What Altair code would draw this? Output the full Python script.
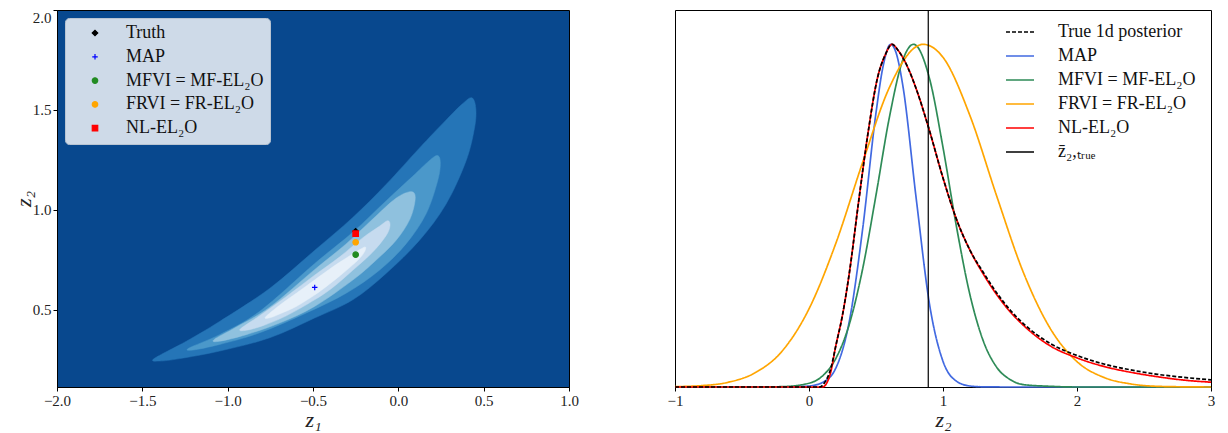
import altair as alt
import pandas as pd

FONT = "Liberation Serif"

# ---------------- left panel: filled contour polygons (z1, z2) ----------------
lvl1_z1 = [-1.431, -1.242, -1.047, -0.754, -0.491, -0.267, -0.072, 0.123, 0.279, 0.376, 0.431, 0.454, 0.446, 0.396, 0.279, 0.123, -0.072, -0.267, -0.491, -0.754, -1.047, -1.281, -1.398]
lvl1_z2 = [0.256, 0.343, 0.442, 0.607, 0.797, 0.962, 1.127, 1.309, 1.449, 1.531, 1.561, 1.507, 1.408, 1.243, 1.028, 0.847, 0.682, 0.550, 0.459, 0.360, 0.294, 0.256, 0.244]
lvl2_z1 = [-1.226, -1.047, -0.813, -0.491, -0.267, -0.072, 0.084, 0.181, 0.230, 0.246, 0.230, 0.162, 0.045, -0.111, -0.306, -0.540, -0.813, -1.047, -1.203]
lvl2_z2 = [0.309, 0.376, 0.492, 0.731, 0.888, 1.045, 1.168, 1.246, 1.272, 1.234, 1.144, 0.979, 0.830, 0.698, 0.583, 0.484, 0.385, 0.327, 0.299]
lvl3_z1 = [-1.080, -0.949, -0.754, -0.491, -0.306, -0.150, -0.014, 0.074, 0.099, 0.068, -0.014, -0.131, -0.267, -0.491, -0.696, -0.891, -1.047]
lvl3_z2 = [0.351, 0.414, 0.513, 0.701, 0.830, 0.954, 1.058, 1.091, 1.058, 0.954, 0.847, 0.748, 0.649, 0.517, 0.434, 0.376, 0.343]
lvl4_z1 = [-0.926, -0.813, -0.657, -0.491, -0.345, -0.209, -0.111, -0.062, -0.049, -0.072, -0.150, -0.267, -0.384, -0.491, -0.657, -0.793, -0.891]
lvl4_z2 = [0.404, 0.470, 0.566, 0.673, 0.764, 0.860, 0.918, 0.946, 0.921, 0.871, 0.789, 0.698, 0.612, 0.550, 0.470, 0.421, 0.398]
lvl5_z1 = [-0.778, -0.696, -0.598, -0.491, -0.384, -0.287, -0.218, -0.193, -0.199, -0.238, -0.326, -0.423, -0.491, -0.598, -0.696, -0.754]
lvl5_z2 = [0.464, 0.523, 0.583, 0.649, 0.715, 0.769, 0.805, 0.814, 0.789, 0.748, 0.682, 0.616, 0.574, 0.517, 0.479, 0.460]
level_colors = ["#2575b7", "#4b98ca", "#8fc1de", "#c6dbef", "#e7f0f9"]
background_color = "#08488e"

# estimates shown as markers
methods = ["Truth", "MAP", "MFVI = MF-EL₂O", "FRVI = FR-EL₂O", "NL-EL₂O"]
method_z1 = [-0.25, -0.49, -0.25, -0.25, -0.25]
method_z2 = [0.893, 0.612, 0.776, 0.838, 0.881]
method_colors = ["#000000", "#0000ff", "#228b22", "#ffa500", "#ff0000"]
method_shapes = ["diamond", "M-1,0L1,0M0,-1L0,1", "circle", "circle", "square"]

# ---------------- right panel: 1d marginals of z2 (normalised to peak 1) ----------------
true_z = [-1.0, 0.08, 0.12, 0.16, 0.20, 0.25, 0.30, 0.37, 0.44, 0.51, 0.57, 0.62, 0.66, 0.74, 0.80, 0.89, 1.0, 1.1, 1.2, 1.3, 1.4, 1.5, 1.6, 1.8, 2.0, 2.2, 2.4, 2.6, 2.8, 3.0]
true_v = [0.0, 0.0, 0.015, 0.05, 0.12, 0.21, 0.33, 0.54, 0.74, 0.90, 0.97, 1.0, 0.985, 0.93, 0.87, 0.76, 0.61, 0.49, 0.40, 0.335, 0.275, 0.225, 0.185, 0.127, 0.092, 0.067, 0.05, 0.037, 0.028, 0.021]
map_z = [-1.0, -0.2, -0.1, 0.0, 0.1, 0.2, 0.3, 0.4, 0.5, 0.55, 0.61, 0.65, 0.7, 0.8, 0.9, 1.0, 1.1, 1.2, 1.3, 1.5, 3.0]
map_v = [0.0, 0.0, 0.001, 0.003, 0.013, 0.055, 0.19, 0.46, 0.80, 0.93, 1.0, 0.975, 0.88, 0.55, 0.24, 0.075, 0.017, 0.003, 0.0005, 0.0, 0.0]
mf_z = [-1.0, -0.4, -0.2, 0.0, 0.1, 0.2, 0.3, 0.4, 0.5, 0.6, 0.7, 0.78, 0.9, 1.0, 1.1, 1.2, 1.3, 1.4, 1.5, 1.6, 1.8, 2.0, 3.0]
mf_v = [0.0, 0.0, 0.001, 0.011, 0.032, 0.083, 0.182, 0.344, 0.56, 0.787, 0.954, 1.0, 0.899, 0.699, 0.469, 0.271, 0.135, 0.058, 0.022, 0.007, 0.002, 0.0, 0.0]
fr_z = [-1.0, -0.8, -0.6, -0.4, -0.2, 0.0, 0.2, 0.4, 0.6, 0.8, 0.85, 1.0, 1.2, 1.4, 1.6, 1.8, 2.0, 2.2, 2.4, 2.6, 2.8, 3.0]
fr_v = [0.001, 0.004, 0.014, 0.042, 0.105, 0.228, 0.419, 0.655, 0.874, 0.993, 1.0, 0.962, 0.793, 0.558, 0.334, 0.171, 0.074, 0.028, 0.009, 0.002, 0.0005, 0.0]
nl_z = [-1.0, 0.10, 0.13, 0.16, 0.20, 0.25, 0.30, 0.37, 0.44, 0.51, 0.57, 0.62, 0.66, 0.74, 0.80, 0.89, 1.0, 1.1, 1.2, 1.3, 1.4, 1.5, 1.6, 1.8, 2.0, 2.2, 2.4, 2.6, 2.8, 3.0]
nl_v = [0.0, 0.0, 0.01, 0.04, 0.12, 0.21, 0.33, 0.54, 0.74, 0.90, 0.97, 1.0, 0.985, 0.93, 0.87, 0.76, 0.61, 0.49, 0.40, 0.33, 0.27, 0.22, 0.18, 0.12, 0.085, 0.06, 0.043, 0.03, 0.02, 0.014]
z2_true_mean = [0.89]

series_names = ["True 1d posterior", "MAP", "MFVI = MF-EL₂O", "FRVI = FR-EL₂O", "NL-EL₂O", "z̄₂,ₜᵣᵤₑ"]
series_colors = ["#000000", "#4169e1", "#2e8b57", "#ffa500", "#ff0000", "#000000"]
series_dash = [[4, 2], [1, 0], [1, 0], [1, 0], [1, 0], [1, 0]]

# ---------------- build tables ----------------
polys = [(lvl1_z1, lvl1_z2), (lvl2_z1, lvl2_z2), (lvl3_z1, lvl3_z2), (lvl4_z1, lvl4_z2), (lvl5_z1, lvl5_z2)]

xs_left = alt.Scale(domain=[-2, 1], nice=False, zero=False)
ys_left = alt.Scale(domain=[0.114, 2.0], nice=False, zero=False)
ax_x_left = alt.Axis(values=[-2, -1.5, -1, -0.5, 0, 0.5, 1], format=".1f", title="z₁", labelFlush=False)
ax_y_left = alt.Axis(values=[0.5, 1.0, 1.5, 2.0], format=".1f", title="z₂", labelFlush=True,
                     labelFlushOffset=0, titlePadding=-3)

layers = []
for k, (a, b) in enumerate(polys):
    dfp = pd.DataFrame({"z1": a, "z2": b, "i": list(range(len(a)))})
    layers.append(
        alt.Chart(dfp).mark_line(interpolate="cardinal-closed", fill=level_colors[k],
                                 stroke=level_colors[k], strokeWidth=0.5)
        .encode(x=alt.X("z1:Q", scale=xs_left, axis=ax_x_left),
                y=alt.Y("z2:Q", scale=ys_left, axis=ax_y_left),
                order=alt.Order("i:Q"))
    )

df_pts = pd.DataFrame({"method": methods, "z1": method_z1, "z2": method_z2})
leg_left = alt.Legend(title=None, orient="top-left", offset=8, padding=6,
                      fillColor="#cedae8", strokeColor="#b8c4d2", cornerRadius=4,
                      labelFont=FONT, labelFontSize=18, labelColor="#111111",
                      symbolSize=30, symbolOffset=15, labelOffset=22, rowPadding=5.8,
                      symbolStrokeWidth=1.2)
pts = alt.Chart(df_pts).mark_point(filled=True, size=30, strokeWidth=1.2, opacity=1).encode(
    x=alt.X("z1:Q", scale=xs_left, axis=ax_x_left),
    y=alt.Y("z2:Q", scale=ys_left, axis=ax_y_left),
    color=alt.Color("method:N", scale=alt.Scale(domain=methods, range=method_colors), legend=leg_left),
    stroke=alt.Stroke("method:N", scale=alt.Scale(domain=methods, range=method_colors), legend=leg_left),
    shape=alt.Shape("method:N", scale=alt.Scale(domain=methods, range=method_shapes), legend=leg_left),
)
layers.append(pts)

left = alt.layer(*layers).properties(
    width=512, height=377,
    view=alt.ViewBackground(fill=background_color, stroke="black", strokeWidth=1),
)

# right panel
curves = []
for name, zz, vv in [("MAP", map_z, map_v), ("MFVI = MF-EL₂O", mf_z, mf_v),
                     ("FRVI = FR-EL₂O", fr_z, fr_v), ("NL-EL₂O", nl_z, nl_v),
                     ("True 1d posterior", true_z, true_v)]:
    for i, (a, b) in enumerate(zip(zz, vv)):
        curves.append({"curve": name, "z": a, "v": b, "i": i})
df_c = pd.DataFrame(curves)
df_rule = pd.DataFrame({"curve": [series_names[5]], "z": z2_true_mean})

xs_right = alt.Scale(domain=[-1, 3], nice=False, zero=False)
ys_right = alt.Scale(domain=[0, 1.1], nice=False, zero=False)
ax_x_right = alt.Axis(values=[-1, 0, 1, 2, 3], format="d", title="z₂", labelFlush=False)
leg_right = alt.Legend(title=None, orient="none", legendX=330, legendY=7, padding=0,
                       labelFont=FONT, labelFontSize=18, labelColor="#111111",
                       symbolType="stroke", symbolSize=784, symbolStrokeWidth=1.6,
                       labelOffset=23, rowPadding=0)

lines = alt.Chart(df_c).mark_line(strokeWidth=1.7, interpolate="monotone").encode(
    x=alt.X("z:Q", scale=xs_right, axis=ax_x_right),
    y=alt.Y("v:Q", scale=ys_right, axis=None),
    color=alt.Color("curve:N", scale=alt.Scale(domain=series_names, range=series_colors), legend=leg_right),
    strokeDash=alt.StrokeDash("curve:N", scale=alt.Scale(domain=series_names, range=series_dash), legend=leg_right),
    detail="curve:N",
    order=alt.Order("i:Q"),
)
rule = alt.Chart(df_rule).mark_rule(strokeWidth=1.2).encode(
    x=alt.X("z:Q", scale=xs_right, axis=ax_x_right),
    color=alt.Color("curve:N", scale=alt.Scale(domain=series_names, range=series_colors), legend=leg_right),
    strokeDash=alt.StrokeDash("curve:N", scale=alt.Scale(domain=series_names, range=series_dash), legend=leg_right),
)
right = alt.layer(lines, rule).properties(
    width=536, height=377,
    view=alt.ViewBackground(fill="white", stroke="black", strokeWidth=1),
)

chart = alt.hconcat(left, right, spacing=87).resolve_scale(
    color="independent", stroke="independent", shape="independent", strokeDash="independent",
    x="independent", y="independent",
).resolve_legend(
    color="independent", stroke="independent", shape="independent", strokeDash="independent",
).properties(padding={"left": 3, "top": 0, "right": 0, "bottom": 0}).configure_axis(
    labelFont=FONT, labelFontSize=15, labelColor="#222222",
    titleFont=FONT, titleFontSize=22, titleFontStyle="italic", titleFontWeight="normal",
    titleColor="#222222", titlePadding=1,
    tickColor="black", domainColor="black", tickSize=4, labelPadding=2, grid=False,
).configure_view(stroke="black")

chart.save("out.html", embed_options={"renderer": "svg", "actions": False})
